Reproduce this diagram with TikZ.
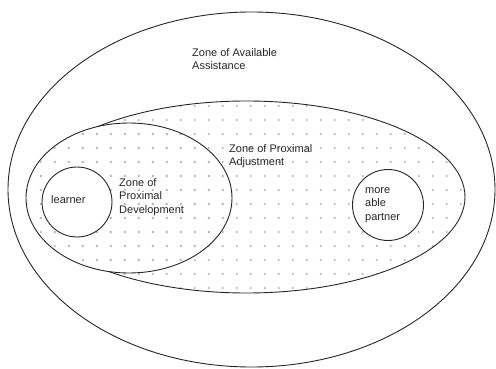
\documentclass[tikz,border=0pt]{standalone}
\usepackage{fontspec}
\setmainfont{Liberation Sans}
\usetikzlibrary{shapes.geometric}
\begin{document}
\begin{tikzpicture}[x=1pt,y=-1pt,
  zone/.style={draw=black!85, line width=0.9pt, ellipse, inner sep=0pt},
  ring/.style={draw=black!85, line width=0.9pt, circle, inner sep=0pt, fill=white},
  lbl/.style={font=\fontsize{11}{13.8}\selectfont, align=left, inner sep=0pt, anchor=north west, text=black!85},
  dotc/.style={fill=black!30}]
\useasboundingbox (0,0) rectangle (496,369);
% dots in the union of both inner zones
\begin{scope}
  \clip (246.5,197) ellipse [x radius=218.5, y radius=96];
  \foreach \i in {0,...,32}
    \foreach \j in {0,...,15}
      \fill[dotc] (26.7+14*\i, 92+14*\j) circle (1.1);
\end{scope}
\begin{scope}
  \clip (129,198) ellipse [x radius=103, y radius=75];
  \foreach \i in {0,...,16}
    \foreach \j in {0,...,15}
      \fill[dotc] (26.7+14*\i, 92+14*\j) circle (1.1);
\end{scope}
% zone of proximal adjustment, hidden where it lies inside the ZPD
\begin{scope}[even odd rule]
  \clip (-10,-10) rectangle (506,379) (129,198) ellipse [x radius=103, y radius=75];
  \node[zone, minimum width=437pt, minimum height=192pt] (zpa) at (246.5,197) {};
\end{scope}
\node[zone, minimum width=206pt, minimum height=150pt] (zpd) at (129,198) {};
\node[zone, minimum width=487pt, minimum height=355pt] (zaa) at (251.5,189.5) {};
\node[ring, minimum size=70pt] (learnerc) at (77,202) {};
\node[ring, minimum size=71pt] (partnerc) at (388,205) {};
\node[lbl] (taa) at (192,48) {Zone of Available\\Assistance};
\node[lbl] (tpa) at (229,144) {Zone of Proximal\\Adjustment};
\node[lbl] (tpd) at (119,178) {Zone of\\Proximal\\Development};
\node[lbl, anchor=west] (tl) at (51,199.5) {learner};
\node[lbl] (tp) at (365,187) {more\\able\\partner};
\end{tikzpicture}
\end{document}
